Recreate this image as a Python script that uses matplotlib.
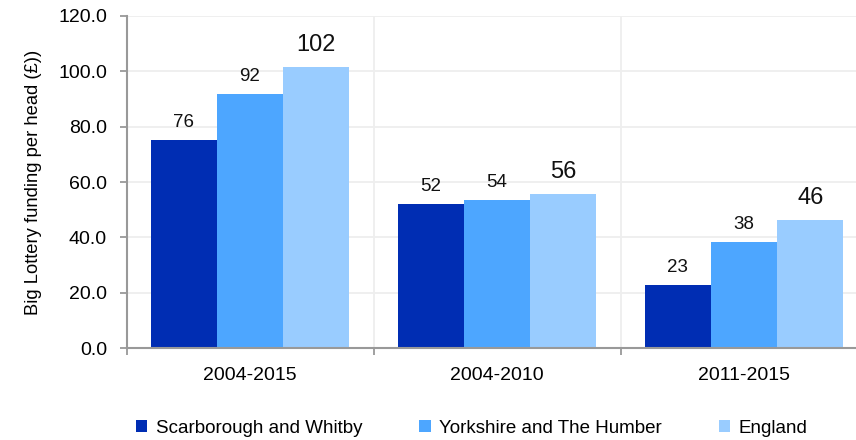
import numpy as np
import matplotlib
matplotlib.use('Agg')
import matplotlib.pyplot as plt

# funding per head by area and period
periods = ['2004-2015', '2004-2010', '2011-2015']
series_names = ['Scarborough and Whitby', 'Yorkshire and The Humber', 'England']
scarborough = [75.3, 52.0, 22.8]
yorkshire = [91.8, 53.6, 38.4]
england = [101.7, 55.8, 46.4]
scarborough_labels = ['76', '52', '23']
yorkshire_labels = ['92', '54', '38']
england_labels = ['102', '56', '46']

colors = ['#002db3', '#4da6ff', '#99ccff']

plt.rcParams['font.family'] = ['Liberation Sans', 'DejaVu Sans']

fig = plt.figure(figsize=(8.56, 4.4), dpi=100)
ax = fig.add_axes([126.5 / 856, 92 / 440, 741 / 856, 332 / 440])

x = np.arange(len(periods))
w = 0.268
values = [scarborough, yorkshire, england]
labels = [scarborough_labels, yorkshire_labels, england_labels]
for i, (vals, labs) in enumerate(zip(values, labels)):
    pos = x + (i - 1) * w
    ax.bar(pos, vals, w, color=colors[i], label=series_names[i], zorder=3)
    for px, v, t in zip(pos, vals, labs):
        if i == 2:
            ax.text(px, v + 4.0, t, ha='center', va='bottom', fontsize=17,
                    color='#111111')
        else:
            ax.text(px, v + 3.3, t, ha='center', va='bottom', fontsize=13.5,
                    color='#111111')

ax.set_xlim(-0.5, 2.5)
ax.set_ylim(0, 120)
ax.set_yticks(np.arange(0, 121, 20))
ax.set_yticklabels(['%.1f' % v for v in np.arange(0, 121, 20)], fontsize=14)
ax.set_xticks([-0.5, 0.5, 1.5, 2.5])
ax.set_xticklabels([])
ax.set_xticks(x, minor=True)
ax.set_xticklabels(periods, minor=True, fontsize=14)
ax.tick_params(axis='x', which='minor', length=0, pad=14)
ax.tick_params(axis='x', which='major', length=5, color='#999999', width=1.3)
ax.tick_params(axis='y', length=5, color='#999999', width=1.3, pad=9)

ax.grid(True, which='major', color='#eeeeee', linewidth=1.3, zorder=0)
for s in ['top', 'right']:
    ax.spines[s].set_visible(False)
for s in ['left', 'bottom']:
    ax.spines[s].set_color('#999999')
    ax.spines[s].set_linewidth(1.5)
    ax.spines[s].set_zorder(4)

ax.set_ylabel('Big Lottery funding per head (£))', fontsize=13.2, labelpad=12)

fig.legend(loc='center left', bbox_to_anchor=(136 / 856, 1 - 428 / 440), ncol=3,
           frameon=False, fontsize=13.5, handlelength=0.6, handleheight=0.6,
           handletextpad=0.45, columnspacing=3.05, borderpad=0, borderaxespad=0)

fig.savefig('out.png', dpi=100)
